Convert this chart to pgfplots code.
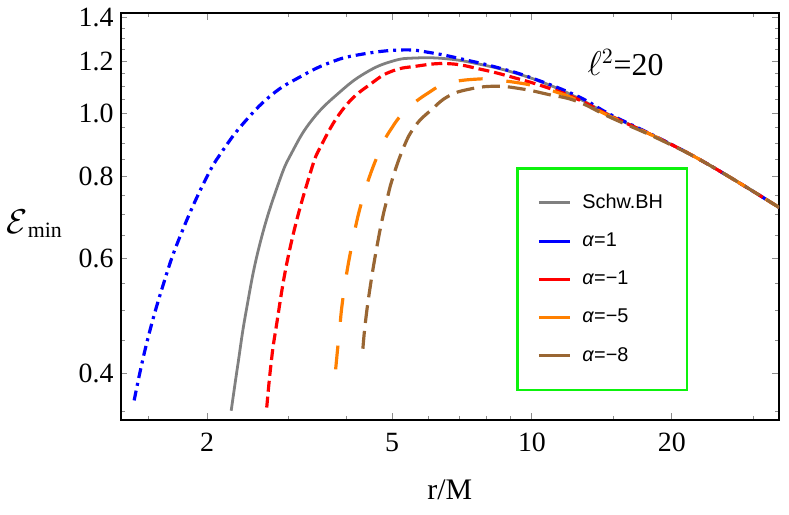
\documentclass[border=0pt]{standalone}
\usepackage{fontspec}
\setmainfont{Liberation Serif}
\newfontfamily\legendfont{Liberation Sans}
\usepackage{pgfplots}
\pgfplotsset{compat=1.18}
\definecolor{mgray}{rgb}{0.5,0.5,0.5}
\definecolor{morange}{rgb}{1,0.5,0}
\definecolor{mbrown}{rgb}{0.6,0.4,0.2}
\definecolor{mgreen}{rgb}{0.05,0.95,0.05}
\begin{document}
\begin{tikzpicture}
\begin{axis}[
  scale only axis, width=331pt, height=204.5pt,
  xmode=log, ymode=log,
  xmin=1.303, xmax=34, ymin=0.340, ymax=1.424,
  xtick={2,5,10,20}, xticklabels={2,5,10,20},
  ytick={0.4,0.6,0.8,1.0,1.2,1.4}, yticklabels={0.4,0.6,0.8,1.0,1.2,1.4},
  minor xtick={1.5,3,4,6,7,8,9,15,30},
  minor ytick={0.35,0.45,0.5,0.55,0.65,0.7,0.75,0.85,0.9,0.95,1.05,1.1,1.15,1.25,1.3,1.35},
  tick align=inside,
  major tick length=3.5pt, minor tick length=2pt,
  every tick/.style={black!45, line width=0.5pt},
  axis line style={line width=1pt, black},
  ticklabel style={font=\fontsize{14}{16}\selectfont},
  xticklabel style={yshift=-3pt},
  xlabel={r/M},
  xlabel style={at={(rel axis cs:0.5,-0.171)}, anchor=center, font=\fontsize{15}{18}\selectfont},
  ylabel={{\fontsize{16.5}{18}\selectfont$\mathcal{E}$}\raisebox{-0.35ex}{\fontsize{11}{12}\selectfont min}},
  ylabel style={rotate=-90, at={(rel axis cs:-0.131,0.482)}, anchor=center},
  legend style={at={(rel axis cs:0.601,0.621)}, anchor=north west, draw=mgreen, line width=1.3pt,
    inner xsep=10pt, inner ysep=11pt, row sep=6.75pt, font=\legendfont\fontsize{10}{12}\selectfont},
  legend cell align=left,
  legend image code/.code={\draw[#1, solid, line width=1.5pt] (0pt,0pt) -- (15.5pt,0pt); \path (19pt,0pt);},
]
\addplot[mgray, line width=1.4pt, smooth, tension=0.75] coordinates {
(2.254,0.351) (2.330,0.413) (2.427,0.498) (2.593,0.628) (2.847,0.780) (3.055,0.875)
(3.372,0.979) (3.845,1.075) (4.384,1.153) (5.0,1.201) (5.61,1.215) (6.61,1.211)
(7.79,1.187) (9.18,1.153) (10.82,1.107) (12.5,1.057) (14.78,0.992) (18.9,0.913)
(24.18,0.832) (34,0.718)};
\addlegendentry{Schw.BH}
\addplot[blue, line width=1.6pt, smooth, tension=0.75, dash pattern=on 5pt off 2.5pt on 1.5pt off 2.5pt] coordinates {
(1.394,0.364) (1.483,0.445) (1.610,0.547) (1.748,0.647) (1.978,0.788) (2.164,0.878)
(2.427,0.976) (2.768,1.070) (3.158,1.135) (3.660,1.194) (4.243,1.229) (5.25,1.250)
(6.09,1.237) (7.16,1.208) (8.46,1.174) (9.97,1.133) (12.5,1.063) (14.78,0.995)
(18.9,0.914) (24.18,0.832) (34,0.718)};
\addlegendentry{\textit{α}=1}
\addplot[red, line width=1.6pt, smooth, tension=0.75, dash pattern=on 5.5pt off 2.5pt] coordinates {
(2.688,0.355) (2.745,0.413) (2.814,0.469) (3.006,0.615) (3.317,0.800) (3.541,0.900)
(3.972,1.026) (4.53,1.113) (5.0,1.160) (5.61,1.180) (6.61,1.191) (7.79,1.167)
(9.18,1.133) (10.82,1.094) (12.5,1.052) (14.78,0.990) (18.9,0.913) (24.18,0.832) (34,0.718)};
\addlegendentry{\textit{α}=−1}
\addplot[morange, line width=1.6pt, smooth, tension=0.75, dash pattern=on 12pt off 12pt] coordinates {
(3.782,0.406) (3.851,0.463) (3.928,0.526) (4.091,0.625) (4.328,0.743) (4.683,0.871) (5.0,0.951)
(5.383,1.014) (5.99,1.075) (6.61,1.113) (7.79,1.129) (8.46,1.124) (9.80,1.107)
(10.82,1.088) (12.5,1.048) (14.78,0.988) (18.9,0.913) (24.18,0.832) (34,0.718)};
\addlegendentry{\textit{α}=−5}
\addplot[mbrown, line width=1.6pt, smooth, tension=0.75, dash pattern=on 9pt off 4pt] coordinates {
(4.328,0.4366) (4.384,0.4805) (4.493,0.546) (4.644,0.628) (4.80,0.706) (4.958,0.775)
(5.278,0.882) (5.61,0.9565) (6.09,1.014) (6.61,1.062) (7.30,1.088) (8.32,1.100)
(9.49,1.090) (10.82,1.069) (12.5,1.043) (14.78,0.985) (18.9,0.911) (24.18,0.832) (34,0.718)};
\addlegendentry{\textit{α}=−8}
\node[font=\fontsize{16}{19}\selectfont] at (rel axis cs:0.767,0.878) {$\ell^{2}$=20};
\end{axis}
\path (current axis.south west) ++(-58.5pt,-47.5pt);
\path (current axis.north east) ++(5pt,6.5pt);
\end{tikzpicture}
\end{document}
